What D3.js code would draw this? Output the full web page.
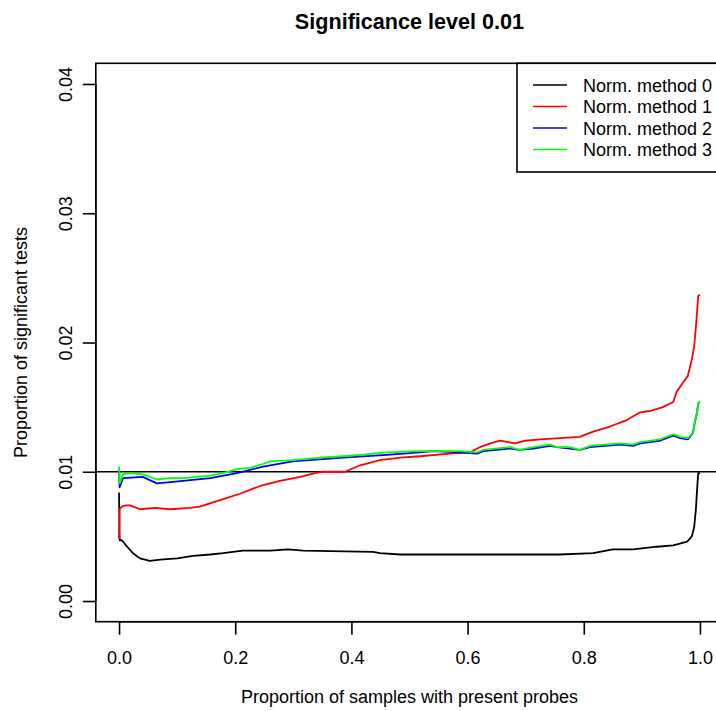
<!DOCTYPE html>
<html>
<head>
<meta charset="utf-8">
<script src="https://cdn.jsdelivr.net/npm/d3@7"></script>
<style>
  html, body { margin: 0; padding: 0; background: #ffffff; }
  svg { display: block; font-family: "Liberation Sans", Arial, Helvetica, sans-serif; }
</style>
</head>
<body>
<div id="chart"></div>
<script>
// ---- Data ----
const title = "Significance level 0.01";
const xTitle = "Proportion of samples with present probes";
const yTitle = "Proportion of significant tests";
const xTicks = [0, 0.2, 0.4, 0.6, 0.8, 1.0];
const xTickLabels = ["0.0", "0.2", "0.4", "0.6", "0.8", "1.0"];
const yTicks = [0, 0.01, 0.02, 0.03, 0.04];
const yTickLabels = ["0.00", "0.01", "0.02", "0.03", "0.04"];
const seriesNames = ["Norm. method 0", "Norm. method 1", "Norm. method 2", "Norm. method 3"];
const seriesColors = ["#000000", "#ff0000", "#0000ff", "#00ff00"];
const threshold = 0.01;

const method0X = [0, 0.001, 0.005, 0.014, 0.024, 0.036, 0.053, 0.071, 0.1, 0.127, 0.157, 0.179, 0.213, 0.26, 0.291, 0.317, 0.437, 0.449, 0.484, 0.506, 0.759, 0.816, 0.85, 0.885, 0.926, 0.954, 0.978, 0.986, 0.99, 0.993, 0.995, 0.997, 1.0];
const method0Y = [0.0084, 0.0047, 0.0047, 0.0042, 0.0037, 0.0033, 0.0031, 0.0032, 0.0033, 0.0035, 0.0036, 0.0037, 0.0039, 0.0039, 0.0040, 0.0039, 0.0038, 0.0037, 0.0036, 0.0036, 0.0036, 0.0037, 0.0040, 0.0040, 0.0042, 0.0043, 0.0046, 0.0050, 0.0057, 0.0071, 0.0086, 0.0099, 0.0099];

const method1X = [0, 0.001, 0.005, 0.012, 0.019, 0.036, 0.062, 0.088, 0.122, 0.139, 0.174, 0.208, 0.243, 0.277, 0.312, 0.337, 0.351, 0.389, 0.415, 0.449, 0.484, 0.518, 0.57, 0.604, 0.621, 0.639, 0.656, 0.682, 0.699, 0.725, 0.759, 0.793, 0.816, 0.845, 0.874, 0.897, 0.914, 0.936, 0.954, 0.96, 0.971, 0.979, 0.986, 0.99, 0.993, 0.997, 1.0];
const method1Y = [0.0048, 0.0071, 0.0073, 0.0074, 0.0074, 0.0071, 0.0072, 0.0071, 0.0072, 0.0073, 0.0078, 0.0083, 0.0089, 0.0093, 0.0096, 0.0099, 0.0100, 0.0100, 0.0105, 0.0109, 0.0111, 0.0112, 0.0114, 0.0115, 0.0119, 0.0122, 0.0124, 0.0122, 0.0124, 0.0125, 0.0126, 0.0127, 0.0131, 0.0135, 0.0140, 0.0146, 0.0147, 0.0150, 0.0154, 0.0162, 0.0169, 0.0174, 0.0187, 0.0197, 0.0212, 0.0236, 0.0237];

const method2X = [0, 0.001, 0.007, 0.041, 0.065, 0.088, 0.11, 0.157, 0.203, 0.248, 0.299, 0.386, 0.461, 0.518, 0.54, 0.587, 0.616, 0.627, 0.673, 0.69, 0.713, 0.742, 0.754, 0.776, 0.793, 0.811, 0.862, 0.885, 0.897, 0.931, 0.954, 0.966, 0.979, 0.988, 0.991, 0.995, 0.997, 1.0];
const method2Y = [0.0101, 0.0088, 0.0095, 0.0096, 0.0091, 0.0092, 0.0093, 0.0095, 0.0099, 0.0104, 0.0108, 0.0111, 0.0113, 0.0115, 0.0116, 0.0115, 0.0114, 0.0116, 0.0118, 0.0117, 0.0118, 0.0120, 0.0119, 0.0118, 0.0117, 0.0119, 0.0121, 0.0120, 0.0122, 0.0124, 0.0128, 0.0126, 0.0125, 0.0130, 0.0138, 0.0146, 0.0153, 0.0154];

const method3X = [0, 0.001, 0.007, 0.019, 0.041, 0.065, 0.088, 0.11, 0.134, 0.157, 0.179, 0.203, 0.225, 0.248, 0.26, 0.299, 0.346, 0.386, 0.415, 0.461, 0.518, 0.54, 0.587, 0.616, 0.627, 0.673, 0.69, 0.713, 0.742, 0.754, 0.776, 0.793, 0.811, 0.862, 0.885, 0.897, 0.931, 0.954, 0.966, 0.979, 0.988, 0.991, 0.995, 0.997, 1.0];
const method3Y = [0.0104, 0.0091, 0.0098, 0.0099, 0.0098, 0.0094, 0.0095, 0.0095, 0.0096, 0.0097, 0.0099, 0.0102, 0.0103, 0.0106, 0.0108, 0.0109, 0.0111, 0.0112, 0.0113, 0.0115, 0.0116, 0.0116, 0.0116, 0.0115, 0.0117, 0.0119, 0.0117, 0.0119, 0.0121, 0.0119, 0.0119, 0.0117, 0.0120, 0.0122, 0.0121, 0.0123, 0.0125, 0.0129, 0.0127, 0.0126, 0.0130, 0.0138, 0.0146, 0.0153, 0.0154];

const seriesX = [method0X, method1X, method2X, method3X];
const seriesY = [method0Y, method1Y, method2Y, method3Y];

// ---- Layout ----
const W = 716, H = 711;
const svg = d3.select("#chart").append("svg").attr("width", W).attr("height", H);
svg.append("rect").attr("width", W).attr("height", H).attr("fill", "#fff");

const x = d3.scaleLinear().domain([-0.04, 1.04]).range([95.8, 723.2]);
const y = d3.scaleLinear().domain([-0.0016, 0.0416]).range([621.7, 63.3]);

const fs = 18;

// clip to plot region
svg.append("clipPath").attr("id", "plotclip")
  .append("rect").attr("x", x.range()[0]).attr("y", y.range()[1])
  .attr("width", x.range()[1] - x.range()[0]).attr("height", y.range()[0] - y.range()[1]);

// threshold line
svg.append("line")
  .attr("clip-path", "url(#plotclip)")
  .attr("x1", x.range()[0]).attr("x2", x.range()[1])
  .attr("y1", y(threshold)).attr("y2", y(threshold))
  .attr("stroke", "#000").attr("stroke-width", 1.6);

// series
const line = d3.line().x(d => x(d[0])).y(d => y(d[1])).curve(d3.curveLinear);
seriesX.forEach((xs, i) => {
  const pts = xs.map((v, j) => [v, seriesY[i][j]]);
  svg.append("path")
    .attr("clip-path", "url(#plotclip)")
    .attr("d", line(pts))
    .attr("fill", "none")
    .attr("stroke", seriesColors[i])
    .attr("stroke-width", 1.8)
    .attr("stroke-linejoin", "round");
});

// frame
svg.append("rect")
  .attr("x", x.range()[0]).attr("y", y.range()[1])
  .attr("width", x.range()[1] - x.range()[0]).attr("height", y.range()[0] - y.range()[1])
  .attr("fill", "none").attr("stroke", "#000").attr("stroke-width", 1.6);

// x axis
const xAxis = d3.axisBottom(x).tickValues(xTicks).tickSize(13)
  .tickFormat((d, i) => xTickLabels[i]);
const gx = svg.append("g").attr("transform", `translate(0,${y.range()[0]})`).call(xAxis);
gx.select(".domain").attr("d", `M${x(0)},0H${x(1)}`).attr("stroke-width", 1.6);
gx.selectAll(".tick line").attr("stroke-width", 1.6);
gx.selectAll(".tick text").attr("y", null).attr("dy", null)
  .attr("transform", "translate(0,42)")
  .attr("font-size", fs).attr("font-family", "Liberation Sans, Arial, sans-serif").attr("fill", "#000");

// y axis
const yAxis = d3.axisLeft(y).tickValues(yTicks).tickSize(13)
  .tickFormat((d, i) => yTickLabels[i]);
const gy = svg.append("g").attr("transform", `translate(${x.range()[0]},0)`).call(yAxis);
gy.select(".domain").attr("d", `M0,${y(0)}V${y(0.04)}`).attr("stroke-width", 1.6);
gy.selectAll(".tick line").attr("stroke-width", 1.6);
gy.selectAll(".tick text")
  .attr("x", null).attr("dy", null)
  .attr("text-anchor", "middle")
  .attr("transform", `translate(-24,0) rotate(-90)`)
  .attr("font-size", fs).attr("font-family", "Liberation Sans, Arial, sans-serif").attr("fill", "#000");

// title
svg.append("text").attr("x", (x.range()[0] + x.range()[1]) / 2).attr("y", 29)
  .attr("text-anchor", "middle").attr("font-weight", "bold").attr("font-size", 21.6)
  .text(title);

// axis titles
svg.append("text").attr("x", (x.range()[0] + x.range()[1]) / 2).attr("y", 703)
  .attr("text-anchor", "middle").attr("font-size", fs).text(xTitle);
svg.append("text").attr("transform", `translate(27,${(y.range()[0] + y.range()[1]) / 2}) rotate(-90)`)
  .attr("text-anchor", "middle").attr("font-size", fs).text(yTitle);

// legend
const lgLeft = 517, lgTop = y.range()[1], lgRight = x.range()[1], rowH = 21.5, firstRow = 85;
svg.append("rect").attr("x", lgLeft).attr("y", lgTop).attr("width", lgRight - lgLeft)
  .attr("height", 172 - lgTop)
  .attr("fill", "#fff").attr("stroke", "#000").attr("stroke-width", 1.6);
seriesNames.forEach((nm, i) => {
  const cy = firstRow + i * rowH;
  svg.append("line").attr("x1", 533).attr("x2", 567).attr("y1", cy).attr("y2", cy)
    .attr("stroke", seriesColors[i]).attr("stroke-width", 1.6);
  svg.append("text").attr("x", 583).attr("y", cy + 6.5).attr("font-size", fs).text(nm);
});
</script>
</body>
</html>
